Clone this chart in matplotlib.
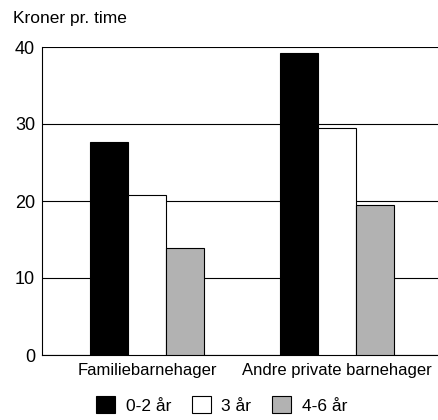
import numpy as np
import matplotlib.pyplot as plt
from matplotlib.patches import Patch

plt.rcParams['font.family'] = ['Liberation Sans Narrow', 'Liberation Sans', 'DejaVu Sans']

categories = ['Familiebarnehager', 'Andre private barnehager']
series = ['0-2 år', '3 år', '4-6 år']
v_0_2 = [27.7, 39.2]
v_3 = [20.8, 29.5]
v_4_6 = [13.9, 19.5]
colors = ['black', 'white', '#b2b2b2']

fig = plt.figure(figsize=(4.39, 4.20), dpi=100)
ax = fig.add_axes([42/439, 1-355/420, 1-42/439, (355-47)/420])

x = np.arange(len(categories))
w = 0.2
for i, (vals, c) in enumerate(zip([v_0_2, v_3, v_4_6], colors)):
    ax.bar(x + (i-1)*w, vals, w, color=c, edgecolor='black', linewidth=0.8, zorder=3)

ax.set_ylim(0, 40)
ax.set_xlim(-0.553, 1.537)
ax.set_yticks([0, 10, 20, 30, 40])
ax.yaxis.grid(True, color='black', linewidth=0.8)
ax.set_axisbelow(True)
for s in ['top', 'right']:
    ax.spines[s].set_visible(False)
ax.spines['left'].set_linewidth(0.8)
ax.spines['bottom'].set_linewidth(0.8)
ax.tick_params(axis='y', length=0, pad=5, labelsize=13)
ax.tick_params(axis='x', length=0, pad=6, labelsize=12)
ax.set_xticks(x)
ax.set_xticklabels(categories)

fig.text(13/439, 1-18/420, 'Kroner pr. time', fontsize=12.5, va='center', ha='left')

handles = [Patch(facecolor=c, edgecolor='black', linewidth=0.8) for c in colors]
fig.legend(handles, series, loc='center', bbox_to_anchor=(0.505, 1-405/420), ncol=3,
           frameon=False, fontsize=12.5, handlelength=1.1, handleheight=1.1,
           handletextpad=0.6, columnspacing=1.2)

fig.savefig('out.png', dpi=100)
